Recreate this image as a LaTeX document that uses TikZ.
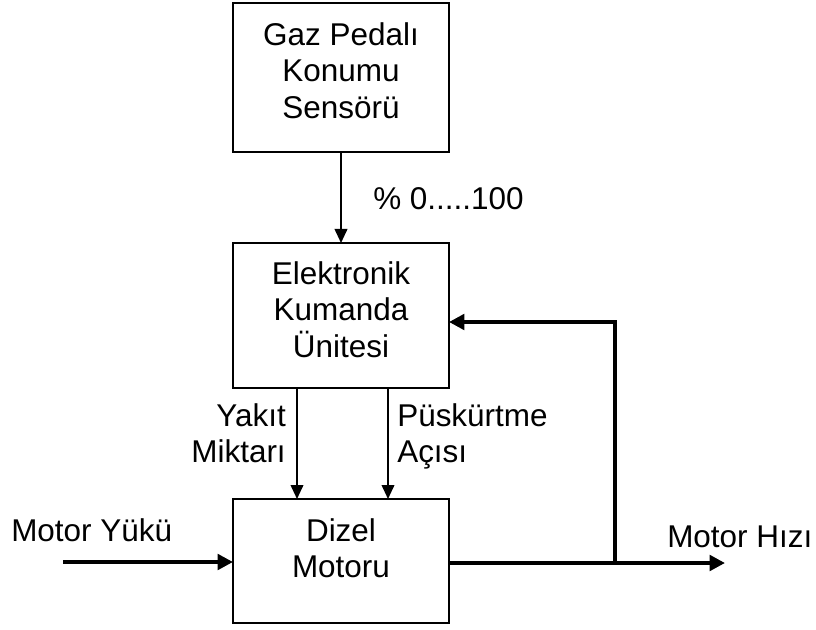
\documentclass[tikz,border=0pt]{standalone}
\usepackage{fontspec}
\setmainfont{Liberation Sans}
\usetikzlibrary{arrows.meta}
\begin{document}
\begin{tikzpicture}[x=0.75pt,y=-0.75pt,
  box/.style={draw, line width=1.3pt, inner sep=0pt, outer sep=0pt, minimum width=162pt},
  txt/.style={font=\fontsize{23.6}{27.5}\selectfont, inner sep=0pt},
  thinarrow/.style={line width=1.3pt, -{Triangle[length=10.5pt,width=9.5pt]}},
  thickarrow/.style={line width=3.4pt, line join=miter, -{Triangle[length=11.5pt,width=11.5pt]}}]
\useasboundingbox (0,0) rectangle (816,630);
% boxes
\node[box, minimum height=111.75pt] (gp) at (341,77.5) {};
\node[box, minimum height=108.75pt] (ek) at (341,315.5) {};
\node[box, minimum height=93pt] (dm) at (341,561) {};
% box texts
\node[txt, align=center, anchor=north] (gpt) at (341,22) {Gaz Pedalı\\Konumu\\Sensörü};
\node[txt, align=center, anchor=north] (ekt) at (341,261) {Elektronik\\Kumanda\\Ünitesi};
\node[txt, align=center, anchor=north] (dmt) at (341,518) {Dizel\\Motoru};
% labels
\node[txt, anchor=base west] (pct) at (373,210) {\% 0.....100};
\node[txt, align=right, anchor=north east] (yk) at (286,403) {Yakıt\\Miktarı};
\node[txt, align=left, anchor=north west] (pa) at (397,403) {Püskürtme\\Açısı};
\node[txt, anchor=base west] (my) at (11,541) {Motor Yükü};
\node[txt, anchor=base west] (mh) at (667,547) {Motor Hızı};
% coordinates
\coordinate (ya) at (297,0);
\coordinate (pu) at (388,0);
\coordinate (in) at (63,562);
\coordinate (out) at (725,563);
\coordinate (j) at (615,563);
\coordinate (fb) at (615,322);
% connectors
\draw[thinarrow] (gp.south) -- (ek.north);
\draw[thinarrow] (ya |- ek.south) -- (ya |- dm.north);
\draw[thinarrow] (pu |- ek.south) -- (pu |- dm.north);
\draw[thickarrow] (in) -- (in -| dm.west);
\draw[thickarrow] (out -| dm.east) -- (out);
\draw[thickarrow] (j) -- (fb) -- (fb -| ek.east);
\end{tikzpicture}
\end{document}
